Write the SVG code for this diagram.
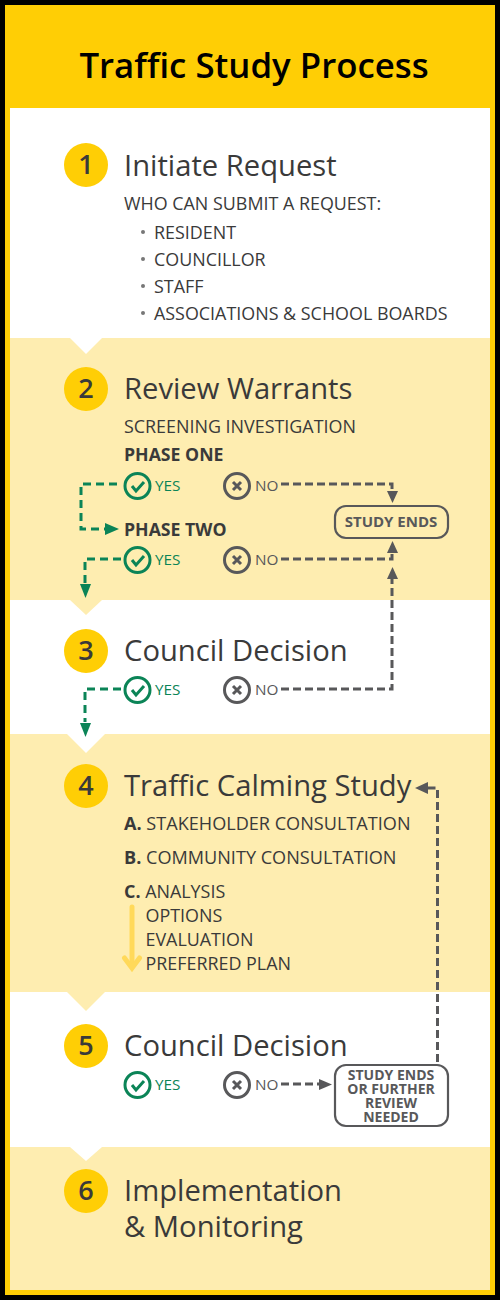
<svg xmlns="http://www.w3.org/2000/svg" width="500" height="1300" viewBox="0 0 500 1300">
<style>
text{font-family:"Open Sans","Noto Sans","Liberation Sans",sans-serif;fill:#3a3a3a}
.h{font-size:29.200px}
.n{font-size:27px;font-weight:600;text-anchor:middle}
.b{font-size:17.900px}
.b2{font-size:18.100px}
.s{font-weight:700;font-size:17.700px}
.y{font-size:15.300px;font-weight:500;fill:#0b8457}
.o{font-size:15.300px;font-weight:500;fill:#58585a}
.e{font-size:15px;font-weight:700;fill:#58585a;text-anchor:middle}
.e2{font-size:14px;font-weight:700;fill:#58585a;text-anchor:middle}
.c{fill:#ffce05}
.k{fill:none;stroke:#0b8457;stroke-width:3}
.x{fill:none;stroke:#58585a;stroke-width:3}
.gl{fill:none;stroke:#0b8457;stroke-width:3;stroke-dasharray:8 5}
.dl{fill:none;stroke:#58585a;stroke-width:3;stroke-dasharray:8 4}
.box{fill:none;stroke:#58585a;stroke-width:2.200}
</style>
<rect width="500" height="1300" fill="#000"/>
<rect x="5" y="5" width="490" height="1290" fill="#ffce05"/>
<rect x="10" y="108" width="480" height="1182" fill="#fff"/>
<rect x="10" y="338" width="480" height="262" fill="#feedb0"/>
<rect x="10" y="734" width="480" height="258" fill="#feedb0"/>
<rect x="10" y="1147" width="480" height="143" fill="#feedb0"/>
<path d="M70 338H102L86 354Z" fill="#fff"/>
<path d="M70 600H102L86 615Z" fill="#feedb0"/>
<path d="M67 734H105L86 753Z" fill="#fff"/>
<path d="M67 992H105L86 1011Z" fill="#feedb0"/>
<path d="M70 1147H102L86 1161Z" fill="#fff"/>
<text id="title" x="254" y="78" text-anchor="middle" style="font-size:34.800px;font-weight:600;fill:#000">Traffic Study Process</text>
<g id="connectors">
<path class="gl" d="M117 484H81V529H106"/><path d="M105 523L119 529L105 535Z" fill="#0b8457"/>
<path class="gl" d="M121 559H85V586"/><path d="M80 584H91L85.500 598Z" fill="#0b8457"/>
<path class="gl" d="M121 689H85V722"/><path d="M80 723H91L85.500 737Z" fill="#0b8457"/>
<path class="dl" d="M281 484H392V492"/><path d="M387 491H398L392.500 503Z" fill="#58585a"/>
<path class="dl" d="M281 559H392V551"/><path d="M387 553H398L392.500 541Z" fill="#58585a"/>
<path class="dl" d="M281 689H392V578"/><path d="M387 579H398L392.500 567Z" fill="#58585a"/>
<path class="dl" d="M281 1084H320"/><path d="M319 1079V1090L332 1084.500Z" fill="#58585a"/>
<path class="dl" d="M437.500 1062V788H428"/><path d="M428 782V794L415 788Z" fill="#58585a"/>
<path d="M132 907V966" fill="none" stroke="#ffd95a" stroke-width="5" stroke-linecap="round"/>
<path d="M124.500 958L132 968L139.500 958" fill="none" stroke="#ffd95a" stroke-width="5" stroke-linecap="round"/>
</g>
<g id="step1"><circle class="c" cx="86" cy="165" r="22"/><text class="n" x="86" y="174">1</text><text class="h" x="124" y="176">Initiate Request</text>
<text class="b" x="124" y="210">WHO CAN SUBMIT A REQUEST:</text>
<g fill="#777"><circle cx="143" cy="232" r="2"/><circle cx="143" cy="259" r="2"/><circle cx="143" cy="286" r="2"/><circle cx="143" cy="313" r="2"/></g>
<text class="b" x="154" y="239">RESIDENT</text><text class="b" x="154" y="266">COUNCILLOR</text><text class="b" x="154" y="293">STAFF</text><text class="b" x="154" y="320">ASSOCIATIONS &amp; SCHOOL BOARDS</text></g>
<g id="step2"><circle class="c" cx="86" cy="389" r="22"/><text class="n" x="86" y="398">2</text><text class="h" x="124" y="399">Review Warrants</text>
<text class="b" x="124" y="433">SCREENING INVESTIGATION</text><text class="s" x="124" y="461">PHASE ONE</text><text class="s" x="124" y="536">PHASE TWO</text></g>
<g id="yes1"><circle class="k" cx="137.500" cy="486" r="12.500"/><path class="k" d="M132 486L136 491L144 482"/><text class="y" x="155" y="491">YES</text></g>
<g id="no1"><circle class="x" cx="237" cy="486" r="12.500"/><path class="x" d="M233 482L241 490M241 482L233 490"/><text class="o" x="255" y="491">NO</text></g>
<g id="yes2"><circle class="k" cx="137.500" cy="560" r="12.500"/><path class="k" d="M132 560L136 565L144 556"/><text class="y" x="155" y="565">YES</text></g>
<g id="no2"><circle class="x" cx="237" cy="560" r="12.500"/><path class="x" d="M233 556L241 564M241 556L233 564"/><text class="o" x="255" y="565">NO</text></g>
<g id="ends1"><rect class="box" x="335" y="506" width="113" height="32" rx="11"/><text class="e" x="391" y="527">STUDY ENDS</text></g>
<g id="step3"><circle class="c" cx="86" cy="651" r="22"/><text class="n" x="86" y="660">3</text><text class="h" x="124" y="661">Council Decision</text></g>
<g id="yes3"><circle class="k" cx="137.500" cy="690" r="12.500"/><path class="k" d="M132 690L136 695L144 686"/><text class="y" x="155" y="695">YES</text></g>
<g id="no3"><circle class="x" cx="237" cy="690" r="12.500"/><path class="x" d="M233 686L241 694M241 686L233 694"/><text class="o" x="255" y="695">NO</text></g>
<g id="step4"><circle class="c" cx="86" cy="786" r="22"/><text class="n" x="86" y="795">4</text><text class="h" x="124" y="796">Traffic Calming Study</text>
<text class="b2" x="124" y="830"><tspan font-weight="700">A.</tspan> STAKEHOLDER CONSULTATION</text>
<text class="b2" x="124" y="864"><tspan font-weight="700">B.</tspan> COMMUNITY CONSULTATION</text>
<text class="b" x="124" y="898"><tspan font-weight="700">C.</tspan> ANALYSIS</text>
<text class="b" x="145.500" y="922">OPTIONS</text><text class="b" x="145.500" y="946">EVALUATION</text><text class="b" x="145.500" y="970">PREFERRED PLAN</text></g>
<g id="step5"><circle class="c" cx="86" cy="1046" r="22"/><text class="n" x="86" y="1055">5</text><text class="h" x="124" y="1056">Council Decision</text></g>
<g id="yes5"><circle class="k" cx="137.500" cy="1085" r="12.500"/><path class="k" d="M132 1085L136 1090L144 1081"/><text class="y" x="155" y="1090">YES</text></g>
<g id="no5"><circle class="x" cx="237" cy="1085" r="12.500"/><path class="x" d="M233 1081L241 1089M241 1081L233 1089"/><text class="o" x="255" y="1090">NO</text></g>
<g id="ends2"><rect class="box" x="335" y="1065" width="113" height="61" rx="11"/><text class="e2" x="391" y="1080">STUDY ENDS<tspan x="391" dy="14">OR FURTHER</tspan><tspan x="391" dy="14">REVIEW</tspan><tspan x="391" dy="14">NEEDED</tspan></text></g>
<g id="step6"><circle class="c" cx="86" cy="1191" r="22"/><text class="n" x="86" y="1200">6</text><text class="h" x="124" y="1201">Implementation</text><text class="h" x="124" y="1237">&amp; Monitoring</text></g>
</svg>
